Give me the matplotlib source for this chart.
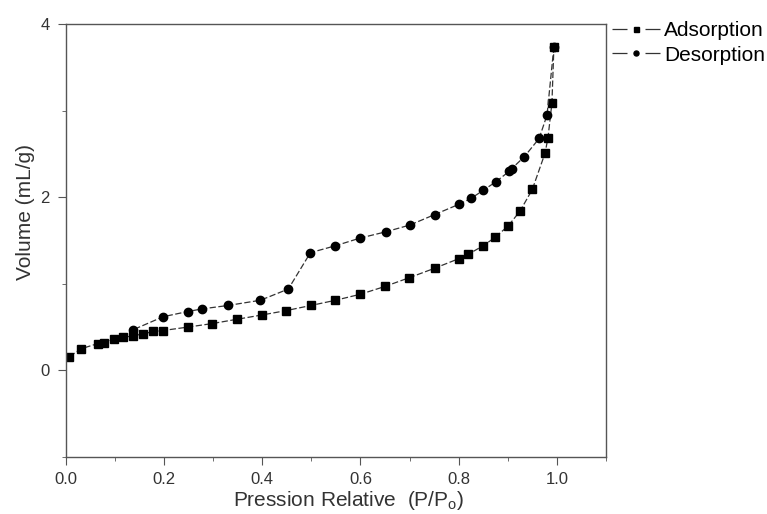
import numpy as np
import matplotlib
matplotlib.use("Agg")
import matplotlib.pyplot as plt
from matplotlib.lines import Line2D
from matplotlib.ticker import MultipleLocator, FormatStrFormatter

plt.rcParams['font.family'] = ['Liberation Sans', 'DejaVu Sans']
plt.rcParams['mathtext.default'] = 'regular'

# adsorption branch (P/P0, volume)
ads_x = [0.007, 0.031, 0.065, 0.077, 0.097, 0.117, 0.136, 0.157, 0.178, 0.197,
         0.248, 0.297, 0.348, 0.399, 0.448, 0.499, 0.549, 0.600, 0.650, 0.699,
         0.751, 0.800, 0.819, 0.850, 0.875, 0.901, 0.925, 0.950, 0.976, 0.982,
         0.990, 0.994]
ads_y = [0.16, 0.25, 0.31, 0.32, 0.36, 0.38, 0.40, 0.42, 0.45, 0.46,
         0.50, 0.54, 0.59, 0.64, 0.69, 0.75, 0.81, 0.88, 0.97, 1.07,
         1.18, 1.29, 1.34, 1.44, 1.54, 1.67, 1.84, 2.09, 2.51, 2.69,
         3.09, 3.74]

# desorption branch
des_x = [0.994, 0.980, 0.964, 0.934, 0.908, 0.903, 0.876, 0.850, 0.826, 0.801,
         0.751, 0.701, 0.651, 0.600, 0.549, 0.498, 0.453, 0.396, 0.330, 0.277,
         0.248, 0.198, 0.137]
des_y = [3.74, 2.95, 2.68, 2.47, 2.33, 2.30, 2.18, 2.08, 1.99, 1.92,
         1.80, 1.68, 1.60, 1.53, 1.44, 1.36, 0.94, 0.81, 0.75, 0.71,
         0.68, 0.62, 0.47]

fig = plt.figure(figsize=(7.67, 5.14), dpi=100)
ax = fig.add_axes([0.086, 0.111, 0.704, 0.842])

line_kw = dict(color='#333333', linewidth=0.9, linestyle=(0, (5, 2)),
               markerfacecolor='black', markeredgecolor='black')
ax.plot(ads_x, ads_y, marker='s', markersize=6, **line_kw)
ax.plot(des_x, des_y, marker='o', markersize=6, **line_kw)

ax.set_xlim(0, 1.1)
ax.set_ylim(-1, 4)
ax.xaxis.set_major_locator(MultipleLocator(0.2))
ax.xaxis.set_minor_locator(MultipleLocator(0.1))
ax.xaxis.set_major_formatter(FormatStrFormatter('%.1f'))
ax.yaxis.set_major_locator(MultipleLocator(2))
ax.yaxis.set_minor_locator(MultipleLocator(1))

for s in ax.spines.values():
    s.set_color('#555555')
    s.set_linewidth(1.0)
ax.tick_params(which='both', direction='out', colors='#555555',
               labelcolor='#333333', labelsize=12, top=False, right=False)
ax.tick_params(which='major', length=5.8)
ax.tick_params(which='minor', length=3)
ax.tick_params(axis='y', which='major', pad=6)
ax.tick_params(axis='x', which='major', pad=5)

ax.set_xlabel('Pression Relative  (P/P$_o$)', fontsize=15, color='#333333')
ax.set_ylabel('Volume (mL/g)', fontsize=15, color='#333333')
ax.xaxis.set_label_coords(0.524, -0.075)
ax.yaxis.set_label_coords(-0.057, 0.566)

# legend handles: long dash - marker - long dash
leg_kw = dict(color='#333333', linewidth=0.9, linestyle=(0, (12, 14.4)),
              markerfacecolor='black', markeredgecolor='black', markersize=3.6)
handles = [Line2D([], [], marker='s', **leg_kw),
           Line2D([], [], marker='o', **leg_kw)]
ax.legend(handles, ['Adsorption', 'Desorption'],
          loc='upper left', bbox_to_anchor=(1.0, 1.021), frameon=False,
          fontsize=15, handlelength=2.3, handletextpad=0.2, labelspacing=0.25,
          borderaxespad=0, borderpad=0.3)

fig.savefig('out.png', dpi=100)
